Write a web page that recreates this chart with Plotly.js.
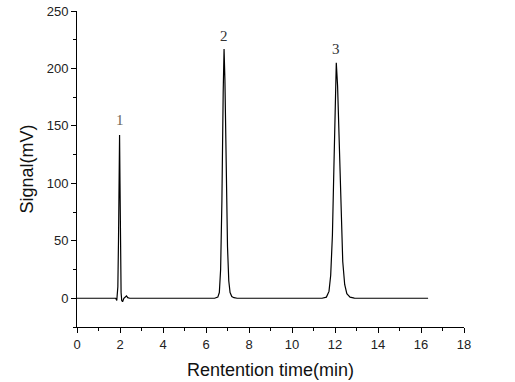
<!DOCTYPE html>
<html>
<head>
<meta charset="utf-8">
<script src="https://cdn.plot.ly/plotly-3.0.1.min.js"></script>
<style>html,body{margin:0;padding:0;background:#fff;}#chart{width:515px;height:382px;}</style>
</head>
<body>
<div id="chart"></div>
<script>
// Retention time (min) and signal (mV)
const timeMin = [0, 1.8, 1.85, 1.9, 1.93, 1.96, 1.98, 2.0, 2.02, 2.05, 2.08, 2.12, 2.18, 2.25, 2.3, 2.36, 2.45, 3,
  6.4, 6.55, 6.62, 6.68, 6.74, 6.8, 6.84, 6.88, 6.94, 7.0, 7.06, 7.12, 7.2, 7.3, 7.45, 8,
  11.4, 11.6, 11.72, 11.8, 11.88, 11.95, 12.02, 12.06, 12.12, 12.2, 12.28, 12.36, 12.45, 12.55, 12.7, 12.9, 16.33];
const signalMv = [0, 0, -2, 10, 50, 110, 142, 100, 33, 5, -2, -3, 0, 1, 2, 0.5, 0, 0,
  0, 1, 5, 25, 85, 180, 217, 190, 110, 45, 15, 5, 1.5, 0.5, 0, 0,
  0, 1, 6, 20, 55, 115, 190, 205, 185, 130, 72, 32, 12, 4, 1, 0.2, 0];
const peakLabels = ["1", "2", "3"];
const peakLabelX = [2.0, 6.84, 12.05];
const peakLabelY = [155, 228, 217];
const peakLabelColors = ["#6b6658", "#333333", "#333333"];

const trace = {
  x: timeMin, y: signalMv, type: 'scatter', mode: 'lines',
  line: {color: '#000000', width: 1.2}, hoverinfo: 'skip'
};

const annotations = peakLabels.map((t, i) => ({
  x: peakLabelX[i], y: peakLabelY[i], xref: 'x', yref: 'y', text: t, showarrow: false,
  font: {family: 'Liberation Serif, Times New Roman, serif', size: 15, color: peakLabelColors[i]}
}));

const axisCommon = {
  showgrid: false, zeroline: false, showline: true, linecolor: '#000', linewidth: 1,
  ticks: 'outside', ticklen: 5, tickwidth: 1, tickcolor: '#000',
  tickfont: {family: 'Liberation Sans, Arial, sans-serif', size: 13, color: '#222'}
};

const layout = {
  width: 515, height: 382,
  margin: {l: 77, r: 51, t: 11, b: 55},
  paper_bgcolor: '#fff', plot_bgcolor: '#fff',
  showlegend: false,
  xaxis: Object.assign({}, axisCommon, {
    range: [0, 18], tick0: 0, dtick: 2,
    minor: {dtick: 1, ticks: 'outside', ticklen: 3, tickcolor: '#000', showgrid: false},
    title: {text: 'Rentention time(min)', standoff: 12,
      font: {family: 'Liberation Sans, Arial, sans-serif', size: 18, color: '#111'}}
  }),
  yaxis: Object.assign({}, axisCommon, {
    range: [-25, 250], tick0: 0, dtick: 50,
    minor: {dtick: 25, ticks: 'outside', ticklen: 3, tickcolor: '#000', showgrid: false},
    title: {text: 'Signal(mV)', standoff: 8,
      font: {family: 'Liberation Sans, Arial, sans-serif', size: 18, color: '#111'}}
  }),
  annotations: annotations
};

Plotly.newPlot('chart', [trace], layout, {displayModeBar: false, staticPlot: true});
</script>
</body>
</html>
